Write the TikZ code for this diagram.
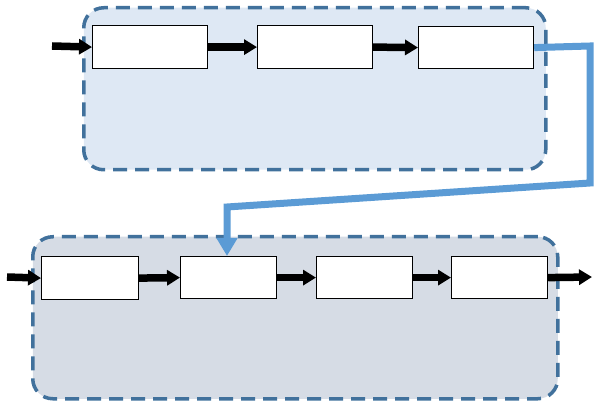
\documentclass[tikz,border=0pt]{standalone}
\usetikzlibrary{arrows.meta}
\begin{document}
\begin{tikzpicture}[x=1pt,y=-1pt,
  container/.style={draw=dashblue,line width=3.5pt,dash pattern=on 14pt off 8pt,rounded corners=20pt,inner sep=0pt,anchor=north west},
  stepbox/.style={draw=black,line width=1.2pt,fill=white,inner sep=0pt,anchor=north west},
  flow/.style={line width=7.5pt,-{Triangle[length=13pt,width=15pt]},black},
  link/.style={line width=7pt,draw=linkblue,-{Triangle[length=18pt,width=20pt]},color=linkblue}]
\definecolor{dashblue}{HTML}{41719C}
\definecolor{linkblue}{HTML}{5B9BD5}
\definecolor{topfill}{HTML}{DEE8F4}
\definecolor{botfill}{HTML}{D6DCE5}
\useasboundingbox (0,0) rectangle (600,403);
% containers
\node[container,fill=topfill,minimum width=462pt,minimum height=162pt] (topc) at (82,6) {};
\node[container,fill=botfill,minimum width=525pt,minimum height=162pt] (botc) at (31,235) {};
% top boxes
\node[stepbox,minimum width=115pt,minimum height=43pt] (t1) at (92,25) {};
\node[stepbox,minimum width=115pt,minimum height=43pt] (t2) at (257,25) {};
\node[stepbox,minimum width=115pt,minimum height=42pt] (t3) at (418,26) {};
% bottom boxes
\node[stepbox,minimum width=97pt,minimum height=43pt] (b1) at (41,256) {};
\node[stepbox,minimum width=96pt,minimum height=42pt] (b2) at (180,256) {};
\node[stepbox,minimum width=96pt,minimum height=42pt] (b3) at (316,256) {};
\node[stepbox,minimum width=96pt,minimum height=42pt] (b4) at (451,256) {};
% free ends
\coordinate (tin) at (52,46);
\coordinate (bin) at (7,277);
\coordinate (bout) at (592,277);
\coordinate (c1) at (590,46);
\coordinate (c2) at (590,183);
\coordinate (c3) at (227,207);
% arrows
\draw[flow] (tin) -- (t1.west);
\draw[flow] (t1.east) -- (t2.west);
\draw[flow] (t2.east) -- (t3.west);
\draw[flow] (bin) -- (b1.west);
\draw[flow] (b1.east) -- (b2.west);
\draw[flow] (b2.east) -- (b3.west);
\draw[flow] (b3.east) -- (b4.west);
\draw[flow] (b4.east) -- (bout);
% link
\draw[link] (t3.east) -- (c1) -- (c2) -- (c3) -- (c3 |- b2.north);
\end{tikzpicture}
\end{document}
